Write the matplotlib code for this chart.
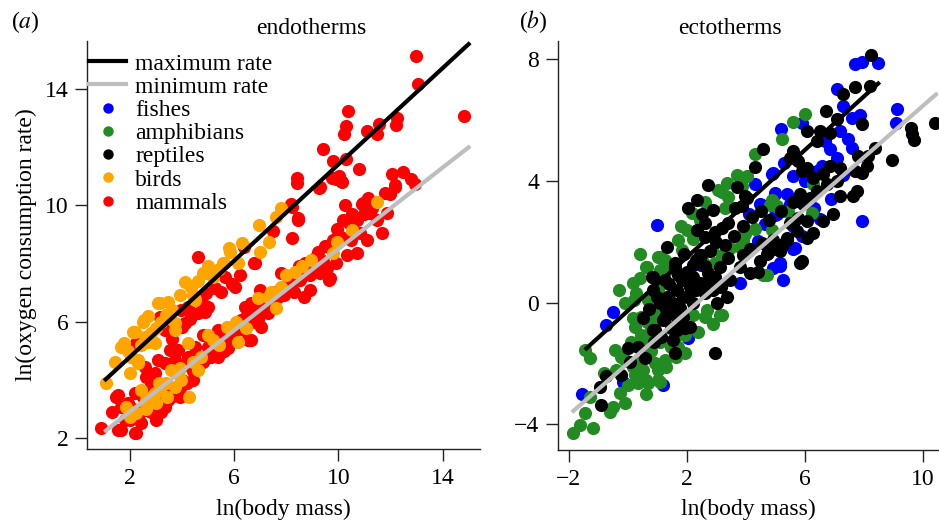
import matplotlib
matplotlib.use('Agg')
import matplotlib.pyplot as plt
from matplotlib.lines import Line2D

plt.rcParams['font.family'] = ['Liberation Serif', 'DejaVu Serif']
plt.rcParams['mathtext.fontset'] = 'stix'

# ---------------- data: panel (a) endotherms ----------------
mammals_x = [13.0, 13.07, 14.83, 10.38, 10.3, 10.2, 11.1, 11.57, 11.5, 12.26, 12.22, 9.39, 9.8, 10.3,
             10.8, 8.39, 8.39, 9.77, 10.03, 10.1, 9.27, 8.16, 8.43, 9.92, 10.15, 9.31, 8.2, 8.43, 8.2,
             6.74, 6.36, 7.47, 4.6, 4.87, 4.21, 3.95, 4.9, 5.25, 5.63, 4.6, 6.01, 6.78, 3.14, 2.22, 3.33,
             4.1, 3.6, 4.0, 4.3, 4.8, 5.0, 5.5, 5.9, 6.2,
             12.07, 12.49, 12.8, 12.95, 12.18, 12.0, 11.15, 10.92, 10.27, 11.23, 10.54, 11.88, 12.18, 11.8,
             10.96, 10.19, 9.96, 10.84, 11.69, 11.1, 9.62, 10.34, 10.72, 9.2, 9.58, 9.69, 9.23, 8.54, 8.05,
             8.66, 8.28, 7.66, 7.01, 6.63, 6.74, 6.25, 5.98, 6.36, 5.75, 5.48, 5.1, 6.51, 7.01, 7.28, 7.0,
             7.78, 9.62, 9.31,
             0.88, 1.46, 1.65, 1.65, 2.18, 2.99, 2.61, 2.18, 2.95, 3.33, 3.56, 2.95, 3.33, 3.72, 4.21, 4.48,
             4.98, 4.79, 5.36, 5.75, 6.4, 6.63, 6.78, 6.4, 5.75, 5.36, 5.1, 3.83, 3.52, 3.07, 2.57, 2.68,
             2.57, 3.45, 1.53, 2.22, 1.53,
             7.5, 8.0, 8.8, 9.0, 8.6, 7.3, 6.9, 8.9, 9.9, 10.5, 5.6, 4.4, 4.0, 3.9, 2.3, 2.0, 1.9, 2.8,
             3.1, 4.2,
             1.3, 1.8, 2.1, 2.4, 2.5, 2.8, 3.2, 3.3, 3.6, 3.9, 4.1, 4.4, 4.5, 4.8, 5.0, 5.3, 5.5, 5.8,
             6.0, 6.2, 6.5, 6.8, 7.0, 7.2, 7.4, 7.6, 7.9, 8.1, 8.3, 8.5, 8.7, 8.9, 9.1, 9.4, 9.5, 9.8,
             10.1, 10.4, 10.7, 11.0, 11.3, 11.5]
mammals_y = [15.16, 14.17, 13.07, 13.24, 12.72, 12.45, 12.55, 12.8, 12.45, 13.0, 12.76, 11.93, 11.52, 11.59,
             11.24, 10.93, 10.76, 10.93, 11.0, 10.83, 10.59, 10.04, 9.56, 10.9, 10.8, 10.63, 9.94, 9.49, 8.87,
             8.01, 8.56, 9.11, 6.3, 6.33, 6.5, 6.4, 6.98, 7.15, 7.53, 8.22, 7.19, 8.01, 6.16, 5.26, 5.71,
             5.95, 5.4, 5.8, 6.1, 6.6, 6.5, 7.0, 7.3, 7.6,
             11.07, 11.14, 10.9, 10.73, 10.63, 10.38, 10.25, 10.04, 10.0, 9.73, 9.7, 9.73, 10.69, 10.42,
             10.08, 9.49, 9.18, 9.04, 9.04, 8.8, 8.56, 8.29, 8.36, 8.39, 7.84, 7.5, 7.95, 7.43, 7.53,
             6.85, 7.02, 6.85, 6.5, 6.64, 6.23, 6.06, 5.81, 5.71, 5.64, 5.47, 5.26, 5.37, 5.81, 6.3, 7.09,
             7.67, 7.43, 7.67,
             2.34, 3.41, 3.07, 2.27, 2.17, 2.62, 4.1, 3.55, 3.2, 3.07, 3.41, 4.23, 4.58, 4.68, 4.78, 5.13,
             5.13, 5.54, 5.71, 5.61, 6.12, 5.37, 6.64, 6.5, 5.09, 4.78, 4.78, 5.02, 5.02, 4.68, 4.44, 3.41,
             2.96, 3.31, 2.27, 2.17, 3.48,
             6.9, 7.2, 7.8, 8.0, 7.6, 6.6, 6.1, 7.1, 8.0, 8.8, 5.0, 4.3, 4.0, 3.7, 2.7, 2.6, 3.2, 3.8,
             3.5, 3.9,
             2.9, 2.6, 3.0, 2.5, 3.4, 2.9, 2.9, 3.8, 3.7, 3.4, 4.5, 4.0, 4.7, 4.6, 4.9, 5.1, 5.4, 5.3,
             5.6, 5.9, 6.0, 6.0, 6.3, 6.7, 6.5, 7.0, 6.9, 7.3, 7.4, 7.9, 8.0, 7.6, 8.2, 8.1, 8.6, 8.8,
             8.9, 9.4, 9.5, 9.7, 9.9, 9.5]

birds_x = [7.78, 7.59, 6.93, 7.0, 7.32, 5.79, 5.59, 4.9, 5.2, 1.07, 1.65, 1.99, 2.3, 2.18, 2.49, 2.57,
           2.99, 3.14, 3.45, 3.37, 3.72, 4.1, 4.33, 4.79, 5.17, 5.56, 5.82, 6.13, 2.68, 2.95, 3.72, 4.48,
           3.07, 2.53, 2.1, 1.76, 2.03, 2.3,
           1.4, 1.9, 2.4, 2.8, 2.7, 3.2, 3.6, 3.9, 4.4, 4.6, 5.0, 5.4, 6.3,
           2.22, 1.84, 2.41, 3.14, 3.37, 3.72, 3.95, 3.56, 3.83, 4.25, 4.6, 4.71, 4.21, 5.17, 6.05, 6.44,
           2.95, 4.98, 6.13, 7.78, 7.28, 7.59, 8.35, 8.93, 9.81, 9.96, 10.54, 11.49, 2.6, 3.0, 2.0,
           2.6, 2.8, 3.1, 3.4, 3.9, 4.4, 5.4, 5.7, 6.9, 7.4, 8.0, 8.6]
birds_y = [9.9, 9.6, 9.32, 8.39, 8.74, 8.53, 8.01, 7.67, 7.53, 3.89, 5.13, 4.23, 4.68, 5.64, 5.99, 5.47,
           5.78, 6.64, 6.67, 6.23, 5.95, 7.36, 7.19, 7.67, 7.6, 8.01, 8.39, 8.01, 5.3, 5.26, 5.71, 6.74,
           6.64, 6.05, 5.64, 5.26, 4.78, 4.58,
           4.6, 5.0, 5.2, 5.6, 6.2, 6.0, 6.4, 6.9, 6.9, 7.4, 7.9, 7.8, 8.7,
           2.86, 3.07, 3.65, 3.65, 3.89, 3.75, 3.99, 4.34, 4.23, 3.41, 4.34, 4.78, 5.26, 5.37, 5.99, 5.78,
           3.55, 5.54, 5.3, 7.19, 6.85, 6.47, 7.7, 8.12, 8.36, 8.74, 9.15, 10.11, 3.3, 3.2, 2.7,
           3.0, 3.4, 3.9, 3.4, 4.4, 4.6, 5.2, 5.8, 6.8, 7.0, 7.6, 7.9]

endo_max_x = [1.0, 15.06]
endo_max_y = [3.96, 15.6]
endo_min_x = [1.0, 15.06]
endo_min_y = [2.2, 12.04]

# ---------------- data: panel (b) ectotherms ----------------
fishes_x = [7.7, 7.93, 8.48, 7.1, 7.29, 7.6, 7.87, 9.13, 9.09, 5.19, 5.9, 7.19, 7.46, 7.6, 6.85, 7.08,
            6.58, 6.41, 5.6, 4.88, 4.31, 4.98, 5.4, 5.5, 4.47, 5.06, 5.73, 6.51, 7.93, 5.6, 4.64, 5.6,
            5.16, 4.4, 0.98, 4.92, 4.98, 4.54, 4.98, 5.67, 5.26, 4.92, 3.79, 2.51, 2.04, 0.91, -0.52,
            -0.75, -1.54, -0.18, 1.18, 2.04, 2.48, 5.16,
            6.0, 6.3, 5.3, 6.7, 7.3, 5.9, 6.9, 4.1]
fishes_y = [7.84, 7.9, 7.87, 7.0, 6.45, 6.07, 6.17, 6.37, 5.9, 5.71, 5.9, 5.64, 5.37, 5.07, 5.04, 4.75,
            4.49, 4.32, 4.16, 4.23, 3.89, 3.57, 3.57, 3.24, 3.24, 2.91, 3.34, 2.75, 2.68, 2.52, 2.58, 1.75,
            1.3, 2.02, 2.55, 4.26, 3.6, 3.2, 2.88, 1.79, 0.74, 1.13, 0.64, 1.23, -1.13, 0.18, -0.31,
            -0.74, -3.0, -2.61, -2.71, -1.17, 1.23, 1.2,
            4.0, 3.1, 4.6, 5.3, 4.2, 2.2, 3.4, 2.9]

amphibians_x = [6.0, 5.6, 5.22, 4.31, 4.03, 3.86, 4.81, 5.06, 6.24, 6.28, 4.31, 3.96, 3.9, 3.7, 3.19,
                3.39, 3.36, 3.05, 2.17, 2.44, 1.69, 1.82, 1.08, 0.64, 1.08, 2.84, 3.19, 3.46, 3.79, 2.95,
                2.54, 4.71, 3.05, 2.68, 2.37, 3.12, 0.84, 0.64, 0.46, 1.42, 4.88, 5.06, 4.88, 5.43, 3.29,
                -1.86, -1.64, -1.2, -1.44, -1.27, -0.52, -0.59, -0.28, 0.0, 0.33, 0.61, 0.23, 0.5, 1.01,
                0.91, 1.25, 0.61, 0.33, -0.11, -0.45, -1.47, -1.27, 1.45, 1.59, 1.08, 0.68, 0.74, 0.23,
                0.17, 0.44, 0.84, 1.01, -0.11, 0.27, 0.17, 0.4, 0.61, 1.01, 1.25, 1.01, 0.68, 1.25, 1.93,
                2.61, 3.15, 1.69, 1.93, 1.62, 1.01, 0.68, 0.44, 0.17, -0.24, 1.28, 4.58, 3.19,
                -0.8, -0.4, 0.1, 0.4, 0.8, 1.1, 0.6, -0.1, 1.5, 1.7, 2.2, 2.9, 0.2, 0.9, 1.4, 1.8,
                2.2, 2.6, 2.0, 0.4, -0.3]
amphibians_y = [6.2, 5.93, 5.37, 4.88, 4.16, 3.82, 3.2, 3.17, 2.94, 3.89, 2.42, 2.25, 2.02, 4.19, 3.63,
                3.47, 3.92, 3.7, 2.94, 2.71, 2.06, 1.73, 1.5, 1.17, 1.07, 1.73, 1.56, 1.79, 1.83, 1.3,
                1.33, 0.91, 0.51, -0.24, -0.97, -0.41, -0.34, -0.64, -1.07, -1.33, 3.37, 3.14, 2.38, 2.97, 3.1,
                -4.29, -4.03, -4.13, -3.63, -3.1, -3.43, -3.6, -2.97, -2.71, -2.64, -2.55, -2.38, -2.22, -2.22,
                -1.99, -1.89, -1.79, -1.99, -1.89, -1.56, -1.56, -1.82, -1.46, -1.17, -1.3, -1.23, -0.97, -0.8,
                -0.51, -0.47, -0.64, -0.34, -0.01, 0.31, 0.64, 0.81, 1.17, 1.5, 1.4, 0.41, 0.08, 0.18, -1.07,
                -0.47, -0.41, -1.46, -1.66, -1.79, -2.55, -2.64, -2.32, -2.12, -1.79, -2.12, 0.91, -0.41,
                -2.3, -2.2, -1.3, -1.4, -1.6, -2.6, -3.0, -3.3, -0.6, -0.3, -0.4, -0.7, 0.1, 0.8, 1.1, 2.5,
                2.1, 3.3, 2.4, 1.6, 0.4]

reptiles_x = [8.25, 7.7, 8.21, 7.29, 6.71, 7.08, 7.93, 9.6, 9.63, 9.7, 10.42, 8.95, 8.38, 8.14, 7.8, 8.1,
              7.7, 7.93, 7.76, 7.63, 7.19, 6.95, 6.61, 6.07, 6.28, 5.83, 6.17, 6.41, 6.75, 7.08, 7.19, 6.85,
              6.61, 6.28, 6.07, 6.41, 6.51, 6.85, 5.6, 5.5, 5.77, 6.07, 5.9, 4.58, 4.31, 3.96, 3.86, 5.94,
              5.77, 5.5, 5.73, 6.07, 5.4, 5.26, 4.92, 5.16, 5.9, 4.71, 4.13, 4.47,
              3.7, 2.72, 2.34, 2.04, 2.89, 4.04, 3.63, 3.39, 3.19, 2.61, 2.34, 2.61, 2.95, 1.31, 2.44, 2.2,
              1.59, 0.81, 1.25, 1.82, 2.2, 2.72, 3.12, 3.39, 3.9, 4.54, 4.75, 5.16, 4.92, 5.4, 5.83, 3.79,
              4.13, 4.4, 3.46, 3.02, 2.44, 2.1, 1.66, 1.36, 1.86, 2.61, 3.36, 3.02, 1.52, 1.08, 1.18, 1.86,
              2.1, 1.66, 0.91, 1.52, 2.2, 0.84,
              -0.92, -0.96, -0.75, -0.24, 0.06, 0.0, 0.33, 0.57, 0.84, 1.59, 2.95, 1.59, 2.48, 1.28, 1.52,
              1.76, 2.04, 2.3, 2.61, 2.95, 3.15, 1.25, 1.45, 1.11, 1.93, 1.69, 1.45, 0.84,
              1.0, 1.4, 1.7, 2.0, 2.3, 2.6, 2.8, 3.0, 3.3, 3.6, 3.9, 4.2, 4.5, 4.8, 5.2, 5.6, 2.5, 1.9,
              1.6, 2.9, 0.5, 0.7, 1.3, 0.9]
reptiles_y = [8.13, 7.08, 7.11, 6.85, 6.29, 6.03, 5.86, 5.73, 5.54, 5.34, 5.9, 4.68, 5.07, 4.82, 4.82, 4.49,
              4.32, 4.26, 3.66, 3.5, 3.5, 2.91, 2.68, 2.68, 2.29, 3.57, 3.43, 3.66, 3.89, 3.99, 4.42, 4.49,
              4.23, 4.09, 5.64, 5.31, 5.64, 5.57, 4.98, 4.75, 4.65, 4.42, 4.32, 5.04, 4.45, 3.5, 3.17, 3.24,
              2.78, 2.61, 2.35, 2.12, 2.12, 1.92, 1.75, 1.69, 1.37, 1.59, 1.75, 1.37,
              3.8, 3.86, 3.37, 3.1, 3.04, 3.43, 3.1, 2.61, 2.45, 2.61, 2.38, 2.15, 2.32, 1.83, 1.56, 1.23,
              1.13, 0.84, 0.74, 0.74, 0.84, 0.97, 1.17, 1.46, 1.56, 1.96, 1.63, 1.73, 2.06, 2.06, 1.3, 1.17,
              0.97, 1.01, 0.74, 0.64, 0.64, 0.51, 0.41, 0.18, 0.18, 0.31, 0.18, -0.01, -0.24, -0.01, -0.57, -0.47,
              -0.8, -0.9, -0.9, -1.23, -0.01, 0.41,
              -3.37, -2.78, -2.41, -2.38, -1.96, -1.5, -1.46, -1.82, -0.9, -1.66, -1.66, 1.17, 1.56, 0.15, -0.01,
              -0.18, 0.18, 0.41, 0.64, 0.84, 0.51, -0.47, -0.84, -1.13, -0.84, -0.57, -0.34, 0.84,
              0.2, 0.6, 0.9, 1.0, 1.4, 1.2, 1.7, 2.0, 1.9, 2.2, 2.5, 2.8, 3.0, 2.7, 3.0, 3.3, 2.9, 1.6,
              1.3, 0.4, -0.5, -0.2, -0.2, -1.3]

ecto_max_x = [-1.46, 8.54]
ecto_max_y = [-1.55, 7.24]
ecto_min_x = [-1.9, 10.5]
ecto_min_y = [-3.6, 6.88]

legend_labels = ['maximum rate', 'minimum rate', 'fishes', 'amphibians', 'reptiles', 'birds', 'mammals']

# ---------------- styles ----------------
C_FISH, C_AMPH, C_REPT, C_BIRD, C_MAMM = '#0000FF', '#228B22', '#000000', '#FFA500', '#FF0000'
C_MAX, C_MIN = '#000000', '#BEBEBE'
FS = 17
S = 90
LW = 3.0

W, H = 939, 522
fig = plt.figure(figsize=(W / 100, H / 100), dpi=100)


def ax_at(l, t, r, b):
    return fig.add_axes([l / W, 1 - b / H, (r - l) / W, (b - t) / H])


def style(ax):
    for s in ['top', 'right']:
        ax.spines[s].set_visible(False)
    for s in ['left', 'bottom']:
        ax.spines[s].set_linewidth(1.0)
        ax.spines[s].set_color('#222222')
    ax.tick_params(direction='out', length=8.5, width=1.0, color='#222222', labelsize=FS, pad=5)


axa = ax_at(87, 41, 480, 449)
axa.set_xlim(0.34, 15.44)
axa.set_ylim(1.61, 15.66)
axb = ax_at(558, 41, 939, 450)
axb.set_xlim(-2.37, 10.55)
axb.set_ylim(-4.84, 8.59)

for ax in (axa, axb):
    style(ax)

axa.scatter(mammals_x, mammals_y, s=S, c=C_MAMM, linewidths=0, clip_on=False, zorder=2)
axa.scatter(birds_x, birds_y, s=S, c=C_BIRD, linewidths=0, clip_on=False, zorder=2)
axa.plot(endo_max_x, endo_max_y, color=C_MAX, lw=LW, solid_capstyle='butt', zorder=3)
axa.plot(endo_min_x, endo_min_y, color=C_MIN, lw=LW, solid_capstyle='butt', zorder=3)

axb.scatter(fishes_x, fishes_y, s=S, c=C_FISH, linewidths=0, clip_on=False, zorder=2)
axb.scatter(amphibians_x, amphibians_y, s=S, c=C_AMPH, linewidths=0, clip_on=False, zorder=2)
axb.scatter(reptiles_x, reptiles_y, s=S, c=C_REPT, linewidths=0, clip_on=False, zorder=2)
axb.plot(ecto_max_x, ecto_max_y, color=C_MAX, lw=LW, solid_capstyle='butt', zorder=3)
axb.plot(ecto_min_x, ecto_min_y, color=C_MIN, lw=LW, solid_capstyle='butt', zorder=3)

axa.set_xticks([2, 6, 10, 14])
axa.set_yticks([2, 6, 10, 14])
axb.set_xticks([-2, 2, 6, 10])
axb.set_yticks([-4, 0, 4, 8])

axa.set_xlabel('ln(body mass)', fontsize=FS)
axb.set_xlabel('ln(body mass)', fontsize=FS)
axa.xaxis.set_label_coords(0.5, -0.123)
axb.xaxis.set_label_coords(0.5, -0.12)
axa.set_ylabel('ln(oxygen consumption rate)', fontsize=FS)
axa.yaxis.set_label_coords((37 - 87) / 393, 0.5)

fig.text(311 / W, 1 - 28 / H, 'endotherms', fontsize=FS, ha='center', va='center')
fig.text(730 / W, 1 - 28 / H, 'ectotherms', fontsize=FS, ha='center', va='center')
fig.text(25 / W, 1 - 22 / H, r'($\mathit{a}$)', fontsize=FS, ha='center', va='center')
fig.text(533 / W, 1 - 22 / H, r'($\mathit{b}$)', fontsize=FS, ha='center', va='center')

handles = [Line2D([], [], color=C_MAX, lw=LW),
           Line2D([], [], color=C_MIN, lw=LW)]
for c in (C_FISH, C_AMPH, C_REPT, C_BIRD, C_MAMM):
    handles.append(Line2D([], [], ls='', marker='o', ms=7.5, mfc=c, mec='none'))
axa.legend(handles, legend_labels, loc='upper left', bbox_to_anchor=(89 / W, 1 - 53 / H),
           bbox_transform=fig.transFigure, frameon=False, fontsize=FS, handlelength=1.57,
           handletextpad=0.38, labelspacing=0.072, borderpad=0, borderaxespad=0)

fig.savefig('out.png', dpi=100)
